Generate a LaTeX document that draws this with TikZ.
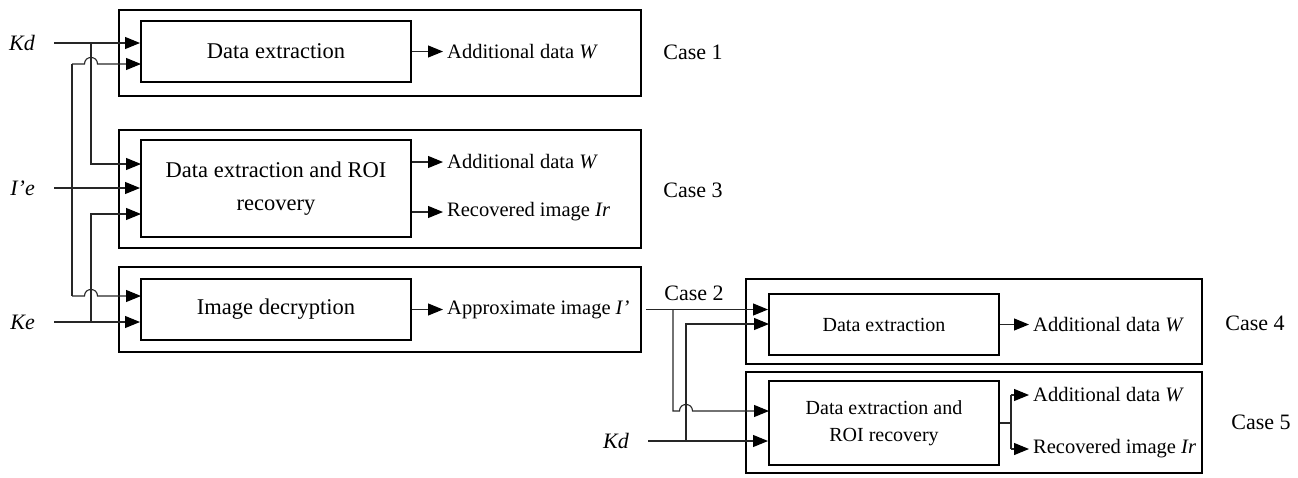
\documentclass[tikz,border=0pt]{standalone}
\usepackage{fontspec}
\setmainfont{Liberation Serif}
\usetikzlibrary{arrows.meta,calc}
\begin{document}
\begin{tikzpicture}[x=1pt,y=-1pt,
  wire/.style={draw=black!85, line width=1.1pt},
  arr/.style={wire, -{Triangle[length=15pt,width=12pt,color=black]}},
  outer/.style={draw, line width=2pt, inner sep=0pt},
  inner/.style={draw, line width=2pt, inner sep=0pt, align=center, font=\fontsize{22.5}{33}\selectfont},
  innersm/.style={inner, font=\fontsize{20}{27}\selectfont},
  inlab/.style={anchor=east, inner xsep=19pt, inner ysep=0pt, font=\fontsize{22}{24}\selectfont\itshape},
  outlab/.style={anchor=west, inner xsep=4pt, inner ysep=0pt, font=\fontsize{20.5}{24}\selectfont},
  caselab/.style={inner sep=0pt, font=\fontsize{22}{24}\selectfont}
]
\useasboundingbox (0,0) rectangle (1298,477);

% outer boxes
\node[outer, minimum width=522pt, minimum height=86pt]  (ob1) at (380,53) {};
\node[outer, minimum width=522pt, minimum height=118pt] (ob2) at (380,189) {};
\node[outer, minimum width=522pt, minimum height=85pt]  (ob3) at (380,309.5) {};
\node[outer, minimum width=456pt, minimum height=85pt]  (ob4) at (974,321.5) {};
\node[outer, minimum width=456pt, minimum height=101pt] (ob5) at (974,422.5) {};

% inner boxes
\node[inner, minimum width=270pt, minimum height=61pt] (b1) at (276,51.5) {Data extraction};
\node[inner, minimum width=270pt, minimum height=97pt] (b2) at (276,188.5) {Data extraction and ROI\\recovery};
\node[inner, minimum width=270pt, minimum height=61pt] (b3) at (276,309.5) {Image decryption};
\node[innersm, minimum width=230pt, minimum height=61pt] (b4) at (884,324.5) {Data extraction};
\node[innersm, minimum width=230pt, minimum height=84pt] (b5) at (884,423) {Data extraction and\\ROI recovery};

% case labels
\node[caselab] (c1) at (693,52) {Case 1};
\node[caselab] (c3) at (693,190) {Case 3};
\node[caselab] (c2) at (694,293) {Case 2};
\node[caselab] (c4) at (1255,323) {Case 4};
\node[caselab] (c5) at (1261,422) {Case 5};

% input labels
\node[inlab] (Kd) at (54,43) {Kd};
\node[inlab] (Ie) at (54,188) {I’e};
\node[inlab] (Ke) at (54,322) {Ke};
\node[inlab] (Kd2) at (648,441) {Kd};

% junction / target coordinates
\coordinate (jK) at (91,43);
\coordinate (jE) at (91,322);
\coordinate (vIt) at (72,64);
\coordinate (vIb) at (72,296);
\coordinate (t1b) at (141,64);
\coordinate (t2a) at (141,164);
\coordinate (t2c) at (141,214);
\coordinate (t3a) at (141,296);

% left wiring
\draw[arr] (Kd.east) -- (Kd.east -| b1.west);
\draw[arr] (jK) |- (t2a);
\draw[arr] (Ie.east) -- (Ie.east -| b2.west);
\draw[wire] (vIt) -- (vIb);
\draw[arr] (vIt) -- (84.5,64) .. controls (84.5,55.3) and (97.5,55.3) .. (97.5,64) -- (t1b);
\draw[arr] (vIb) -- (84.5,296) .. controls (84.5,287.3) and (97.5,287.3) .. (97.5,296) -- (t3a);
\draw[arr] (Ke.east) -- (Ke.east -| b3.west);
\draw[arr] (jE) |- (t2c);

% outputs of first column
\node[outlab] (o1) at (443,51.5) {Additional data \textit{W}};
\node[outlab] (o2a) at (443,162) {Additional data \textit{W}};
\node[outlab] (o2b) at (443,212) {Recovered image \textit{Ir}};
\node[outlab] (o3) at (443,309.5) {Approximate image \textit{I’}};
\draw[arr] (b1.east) -- (o1.west);
\draw[arr] (b2.east |- o2a.west) -- (o2a.west);
\draw[arr] (b2.east |- o2b.west) -- (o2b.west);
\draw[arr] (b3.east) -- (o3.west);

% second column wiring
\coordinate (s2) at (646,309.5);
\coordinate (jI2) at (673,309.5);
\coordinate (jK2) at (686,441);
\coordinate (t4b) at (769,324);
\coordinate (t5a) at (769,411);
\draw[arr] (s2) -- (s2 -| b4.west);
\draw[arr] (jI2) -- (673,411) -- (679.5,411) .. controls (679.5,402.3) and (692.5,402.3) .. (692.5,411) -- (t5a);
\draw[arr] (Kd2.east) -- (Kd2.east -| b5.west);
\draw[arr] (jK2) |- (t4b);

% outputs of second column
\node[outlab] (o4) at (1029,324.5) {Additional data \textit{W}};
\node[outlab] (o5a) at (1029,395) {Additional data \textit{W}};
\node[outlab] (o5b) at (1029,449) {Recovered image \textit{Ir}};
\coordinate (j5) at (1011,423);
\draw[arr] (b4.east) -- (o4.west);
\draw[wire] (b5.east) -- (j5);
\draw[wire] (j5 |- o5a.west) -- (j5 |- o5b.west);
\draw[arr] (j5 |- o5a.west) -- (o5a.west);
\draw[arr] (j5 |- o5b.west) -- (o5b.west);
\end{tikzpicture}
\end{document}
